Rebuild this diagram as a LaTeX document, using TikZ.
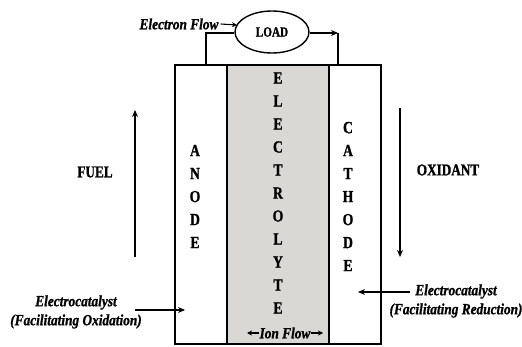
\documentclass[tikz,border=0pt]{standalone}
\usepackage{fontspec}
\setmainfont{Liberation Serif}
\newfontfamily\upf[FakeStretch=0.8,FakeBold=1.2]{Liberation Serif}
\newfontfamily\itf[FakeStretch=0.86,FakeBold=1]{Liberation Serif}
\usetikzlibrary{arrows.meta,shapes.geometric}
\definecolor{elgray}{RGB}{218,216,213}
\begin{document}
\begin{tikzpicture}[x=1pt,y=-1pt,
  cell/.style={draw, line width=1.7pt, inner sep=0pt, minimum width=#1, minimum height=279pt},
  stack/.style={font=\upf\bfseries\fontsize{17}{23}\selectfont, align=center, inner sep=0pt},
  lbl/.style={font=\upf\bfseries\fontsize{16.5}{18}\selectfont, inner sep=0pt},
  ilbl/.style={font=\itf\bfseries\itshape\fontsize{15.5}{19}\selectfont, align=center, inner sep=0pt},
  wire/.style={line width=1.4pt},
  arr/.style={line width=1.3pt, -{Stealth[length=7pt,width=6pt]}},
  sarr/.style={line width=1.1pt, -{Stealth[length=5pt,width=5pt]}}
]
\useasboundingbox (0,0) rectangle (522,347);
% cells
\node[cell=52pt] (anode) at (201,204.5) {};
\node[cell=102pt, fill=elgray] (elec) at (278,204.5) {};
\node[cell=52pt] (cath) at (355,204.5) {};
% letters
\node[stack] (anodetxt) at (195,196.5) {A\\N\\O\\D\\E};
\node[stack] (electxt) at (278,193) {E\\L\\E\\C\\T\\R\\O\\L\\Y\\T\\E};
\node[stack] (cathtxt) at (348,196.5) {C\\A\\T\\H\\O\\D\\E};
% load
\node[draw, ellipse, line width=1.4pt, minimum width=74pt, minimum height=42pt, inner sep=0pt,
  font=\upf\bfseries\fontsize{14}{15}\selectfont] (load) at (272,32) {LOAD};
\coordinate (wl) at (206,65);
\coordinate (wr) at (338,65);
\coordinate (wlc) at (206,33);
\coordinate (wrc) at (338,33);
\draw[wire] (wl) -- (wlc) -- (load.west |- wlc);
\draw[wire] (wrc) -- (wr);
\draw[wire, -{Stealth[length=7pt,width=6pt]}] (load.east |- wrc) -- (wrc);
% electron flow
\node[ilbl] (eflow) at (179,24) {Electron Flow};
\coordinate (efend) at (237,25);
\draw[sarr] (eflow.east) ++(2,0) -- (efend);
% fuel / oxidant
\node[lbl] (fuel) at (95,172) {FUEL};
\coordinate (f1) at (135,257);
\coordinate (f2) at (135,110);
\draw[arr] (f1) -- (f2);
\node[lbl] (oxi) at (448,170) {OXIDANT};
\coordinate (o1) at (400,108);
\coordinate (o2) at (400,257);
\draw[arr] (o1) -- (o2);
% electrocatalysts
\node[ilbl] (ecl) at (76,312) {Electrocatalyst\\(Facilitating Oxidation)};
\coordinate (ecl1) at (135,310);
\coordinate (ecl2) at (185,310);
\draw[arr] (ecl1) -- (ecl2);
\node[ilbl] (ecr) at (456,301) {Electrocatalyst\\(Facilitating Reduction)};
\coordinate (ecr1) at (410,292);
\coordinate (ecr2) at (358,292);
\draw[arr] (ecr1) -- (ecr2);
% ion flow
\node[ilbl] (ion) at (285,333) {Ion Flow};
\coordinate (ionl) at (247,333);
\coordinate (ionr) at (323,333);
\draw[sarr] (ion.west) -- (ionl);
\draw[sarr] (ion.east) -- (ionr);
\end{tikzpicture}
\end{document}
